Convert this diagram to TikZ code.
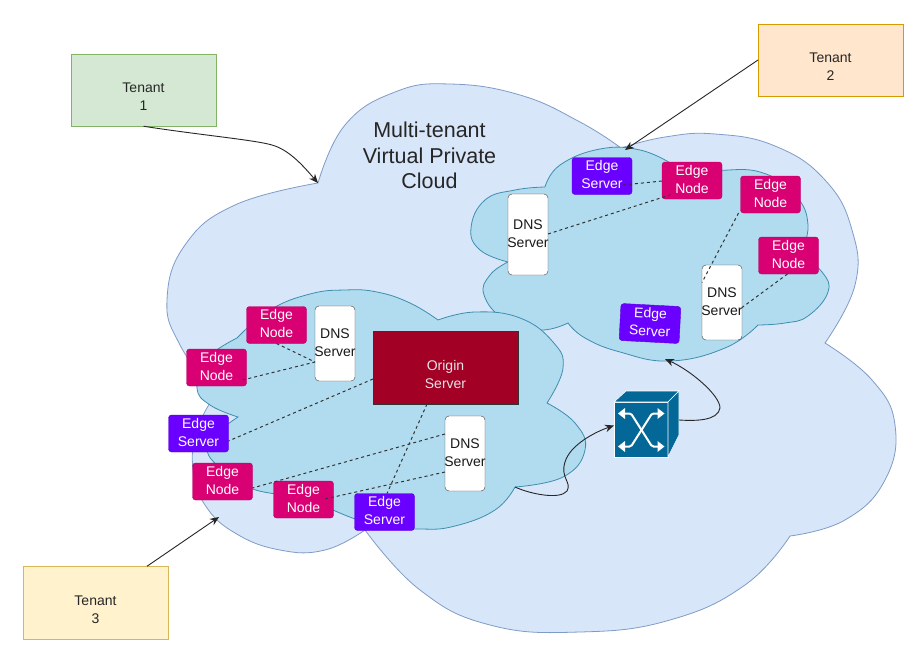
\documentclass[tikz,border=0pt]{standalone}
\usepackage{fontspec}
\setmainfont{Liberation Sans}
\usetikzlibrary{arrows.meta}
\definecolor{mainfill}{HTML}{D8E6F9}
\definecolor{mainline}{HTML}{7F9CC6}
\definecolor{innerfill}{HTML}{B1DCF0}
\definecolor{innerline}{HTML}{3F8DAE}
\definecolor{edgenode}{HTML}{D80073}
\definecolor{edgeserver}{HTML}{6A00FF}
\definecolor{originred}{HTML}{A20025}
\definecolor{swblue}{HTML}{036897}
\definecolor{t1fill}{HTML}{D5E8D4}
\definecolor{t1line}{HTML}{82B366}
\definecolor{t2fill}{HTML}{FFE6CC}
\definecolor{t2line}{HTML}{D79B00}
\definecolor{t3fill}{HTML}{FFF2CC}
\definecolor{t3line}{HTML}{D6B656}
\tikzset{
  x=1pt,y=-1pt,
  txt/.style={font=\fontsize{14}{18}\selectfont,align=center,inner sep=0pt,outer sep=0pt},
  tenantbox/.style={draw,inner sep=0pt,outer sep=0pt,minimum width=145pt,minimum height=72.5pt,
    label={[txt,text=black!85,yshift=-7pt]center:#1}},
  enode/.style={fill=edgenode,draw=edgenode!85!black,rounded corners=3pt,inner sep=0pt,outer sep=0pt,minimum width=60pt,minimum height=37pt,
    label={[txt,text=white,yshift=1.5pt]center:#1}},
  eserver/.style={fill=edgeserver,draw=edgeserver!85!black,rounded corners=3pt,inner sep=0pt,outer sep=0pt,minimum width=60pt,minimum height=37pt,
    label={[txt,text=white,yshift=1.5pt]center:#1}},
  dnsbox/.style={fill=white,draw=black!75,rounded corners=4pt,inner sep=0pt,outer sep=0pt,minimum width=40pt,minimum height=75pt,
    label={[txt,text=black!90,yshift=1pt]center:#1}},
  conn/.style={draw=black!80,line width=1pt,dash pattern=on 3pt off 3pt},
  arr/.style={draw=black!85,line width=.9pt,-{Stealth[length=9pt,width=7.5pt]}},
  maincloud/.style={fill=mainfill,draw=mainline,line width=.8pt},
  innercloud/.style={fill=innerfill,draw=innerline,line width=.8pt},
}
\begin{document}
\begin{tikzpicture}
\useasboundingbox (0,0) rectangle (913,664);
\fill[white] (0,0) rectangle (913,664);
% main cloud
\path[maincloud] plot[smooth,tension=.75] coordinates{(318,183)(345,125)(395,92)(450,84)(520,95)(580,122)(621,148)}
 -- plot[smooth,tension=.75] coordinates{(621,148)(665,137)(715,134)(775,146)(825,180)(852,230)(855,285)(825,343)}
 -- plot[smooth,tension=.75] coordinates{(825,343)(872,380)(895,425)(885,480)(845,520)(790,536)}
 -- plot[smooth,tension=.75] coordinates{(790,536)(745,585)(670,620)(580,632)(490,625)(420,590)(365,530)}
 -- plot[smooth,tension=.75] coordinates{(365,530)(325,550)(280,550)(235,533)(205,505)(193,470)(197,430)(215,395)}
 -- plot[smooth,tension=.75] coordinates{(215,395)(180,345)(167,300)(185,245)(235,205)(318,183)} -- cycle;
% inner cloud, upper right
\path[innercloud] plot[smooth,tension=.75] coordinates{(545,187)(560,165)(600,149)(640,150)(672,164)}
 -- plot[smooth,tension=.75] coordinates{(672,164)(710,170)(760,172)(795,195)(808,225)(800,255)}
 -- plot[smooth,tension=.75] coordinates{(800,255)(822,272)(828,292)(808,316)(785,323)(758,325)}
 -- plot[smooth,tension=.75] coordinates{(758,325)(725,348)(670,361)(620,352)(585,338)(568,323)}
 -- plot[smooth,tension=.75] coordinates{(568,323)(540,330)(505,320)(484,295)(490,275)(508,262)}
 -- plot[smooth,tension=.75] coordinates{(508,262)(480,250)(471,228)(485,200)(515,190)(545,187)} -- cycle;
% inner cloud, lower left
\path[innercloud] plot[smooth,tension=.75] coordinates{(237,338)(270,310)(310,294)(345,290)(377,292)(410,303)(438,320)}
 -- plot[smooth,tension=.75] coordinates{(438,320)(475,312)(520,318)(553,342)(563,368)(547,403)}
 -- plot[smooth,tension=.75] coordinates{(547,403)(575,423)(585,450)(563,477)(515,487)}
 -- plot[smooth,tension=.75] coordinates{(515,487)(495,510)(455,526)(420,529)(375,525)(333,510)}
 -- plot[smooth,tension=.75] coordinates{(333,510)(290,497)(250,488)(222,470)(208,445)(238,417)}
 -- plot[smooth,tension=.75] coordinates{(238,417)(210,405)(197,388)(205,360)(237,338)} -- cycle;
% tenants
\node[tenantbox={Tenant\\1},fill=t1fill,draw=t1line] (t1) at (143.5,90) {};
\node[tenantbox={Tenant\\2},fill=t2fill,draw=t2line] (t2) at (830.5,60) {};
\node[tenantbox={Tenant\\3},fill=t3fill,draw=t3line] (t3) at (95.5,602.5) {};
\node[font=\fontsize{21.5}{25.5}\selectfont,align=center,inner sep=0pt,text=black!85] (title) at (429.5,155.5) {Multi-tenant\\Virtual Private\\Cloud};
% upper cluster
\node[eserver={Edge\\Server}] (es1) at (602,176) {};
\node[enode={Edge\\Node}] (en1) at (692,180.5) {};
\node[enode={Edge\\Node}] (en2) at (770.5,194.5) {};
\node[enode={Edge\\Node}] (en3) at (788.5,255.5) {};
\node[dnsbox={DNS\\Server},minimum height=81pt] (d1) at (528,234.5) {};
\node[dnsbox={DNS\\Server}] (d2) at (722,302.5) {};
\node[fill=edgeserver,draw=edgeserver!85!black,rounded corners=3pt,inner sep=0pt,outer sep=0pt,minimum width=60pt,minimum height=37pt,rotate=-3,
  label={[txt,text=white,rotate=-3,yshift=1.5pt]center:Edge\\Server}] (es2) at (650,323.5) {};
% lower cluster
\node[enode={Edge\\Node}] (en4) at (276.5,325) {};
\node[enode={Edge\\Node}] (en5) at (216.5,367.5) {};
\node[dnsbox={DNS\\Server}] (d3) at (335,343.5) {};
\node[fill=originred,draw=black!80,inner sep=0pt,outer sep=0pt,minimum width=145pt,minimum height=73pt,
  label={[txt,text=white!90!black,yshift=-7pt]center:Origin\\Server}] (origin) at (445.5,367.5) {};
\node[eserver={Edge\\Server}] (es3) at (198.5,433.5) {};
\node[enode={Edge\\Node}] (en6) at (222.5,481.5) {};
\node[enode={Edge\\Node}] (en7) at (303.5,499.5) {};
\node[eserver={Edge\\Server}] (es4) at (384.5,512) {};
\node[dnsbox={DNS\\Server}] (d4) at (465,453.5) {};
% switch
\node[fill=swblue,draw=white,line width=.6pt,minimum width=54pt,minimum height=55pt,inner sep=0pt,outer sep=0pt] (sw) at (641,429.5) {};
\fill[swblue,draw=white,line width=.6pt] (sw.north west) -- ++(12,-11) -- ++(53,0) -- (sw.north east) -- cycle;
\fill[swblue,draw=white,line width=.6pt] (sw.north east) -- ++(11,-11) -- ++(0,44) -- (sw.south east) -- cycle;
\draw[white,line width=2pt,rounded corners=1.5pt] (622,413.5) -- (631,413.5) -- (652,446.5) -- (660,446.5);
\draw[white,line width=2pt,rounded corners=1.5pt] (622,446.5) -- (631,446.5) -- (652,413.5) -- (660,413.5);
\fill[white] (618,413.5) -- (625,408) -- (625,419) -- cycle;
\fill[white] (618,446.5) -- (625,441) -- (625,452) -- cycle;
\fill[white] (664.5,413.5) -- (657.5,408) -- (657.5,419) -- cycle;
\fill[white] (664.5,446.5) -- (657.5,441) -- (657.5,452) -- cycle;
% dashed connectors
\path[conn] ([yshift=-9pt,xshift=-9pt]es1.east) -- ([yshift=-.5pt]en1.west);
\path[conn] ([yshift=.5pt]d1.east) -- ([xshift=8pt,yshift=4pt]en1.south west);
\path[conn] ([xshift=-2pt]en2.south west) -- ([yshift=20pt]d2.west);
\path[conn] ([xshift=-1pt]en3.south) -- ([yshift=-5pt]d2.east);
\path[conn] (en4.south) -- ([yshift=-18.5pt]d3.west);
\path[conn] ([xshift=-4pt,yshift=6pt]en5.south east) -- ([yshift=-18.5pt]d3.west);
\path[conn] ([yshift=-11.5pt]origin.west) -- ([yshift=-7.5pt]es3.east);
\path[conn] ([xshift=-18.5pt]origin.south) -- ([xshift=2.5pt]es4.north);
\path[conn] ([yshift=19.5pt]d4.west) -- ([yshift=-6.5pt]en6.east);
\path[conn] ([yshift=-18.5pt]d4.west) -- ([xshift=-11pt]en7.east);
% arrows
\coordinate (c1) at (318,183);
\coordinate (c2) at (625,150);
\coordinate (c3) at (219,517);
\coordinate (c4) at (515,487);
\coordinate (c5) at (665,359);
\path[arr] (t1.south) .. controls (200,135) and (255,140) .. (272,145) .. controls (290,150) and (305,168) .. (c1);
\path[arr] (t2.west) -- (c2);
\path[arr] (t3.north east) ++(-21,0) -- (c3);
\path[arr] (c4) .. controls (530,494) and (560,500) .. (567,491) .. controls (572,482) and (560,478) .. (565,462) .. controls (570,445) and (595,432) .. ([yshift=4pt]sw.west);
\path[arr] ([yshift=9.5pt,xshift=11pt]sw.east) .. controls (695,421) and (718,421) .. (720,408) .. controls (720,395) and (690,370) .. (c5);
\end{tikzpicture}
\end{document}
